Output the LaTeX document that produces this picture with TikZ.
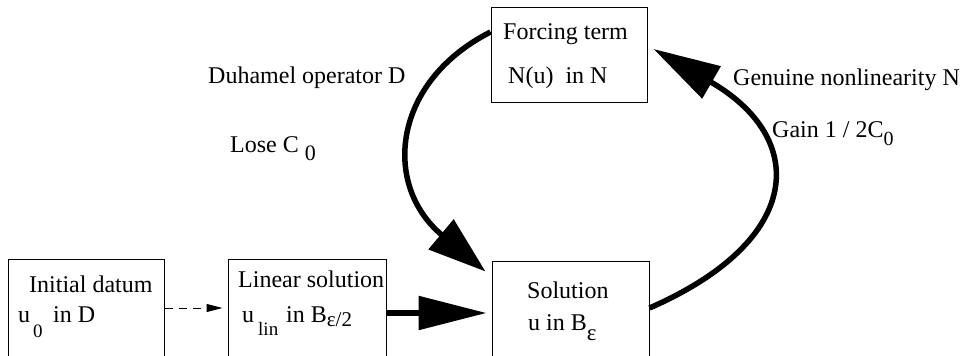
\documentclass[tikz,border=0pt]{standalone}
\usepackage{fontspec}
\setmainfont{Liberation Serif}
\usetikzlibrary{arrows.meta}
\tikzset{
  box/.style={draw=black, line width=1pt, inner sep=0pt, fill=none},
  txt/.style={inner sep=0pt, anchor=base west, font=\fontsize{24}{28}\selectfont},
  sub/.style={inner sep=0pt, anchor=base west, font=\fontsize{19}{21}\selectfont},
  thickarrow/.style={line width=5.5pt},
  dasharrow/.style={line width=1pt, dash pattern=on 8pt off 6pt, -{Triangle[length=16pt,width=8pt]}}
}
\begin{document}
\begin{tikzpicture}[x=1pt,y=-1pt]
\useasboundingbox (0,0) rectangle (964,356);
\clip (0,0) rectangle (964,356);
\fill[white] (0,0) rectangle (964,356);
% boxes
\node[box, minimum width=156pt, minimum height=103pt] (A) at (86,310.5) {};
\node[box, minimum width=158pt, minimum height=103pt] (B) at (307,310.5) {};
\node[box, minimum width=157pt, minimum height=101pt] (C) at (570.5,311.5) {};
\node[box, minimum width=156pt, minimum height=95pt] (D) at (569,54.5) {};
% texts in boxes
\node[txt] (a1) at (29,292) {Initial datum};
\node[txt] (a2) at (18,322) {u};
\node[sub] (a3) at (33,337) {0};
\node[txt] (a4) at (53,322) {in D};
\node[txt] (b1) at (238,287) {Linear solution};
\node[txt] (b2) at (242,322) {u};
\node[sub] (b3) at (258,335) {lin};
\node[txt] (b4) at (286,322) {in B\raisebox{-4pt}{\fontsize{21}{22}\selectfont ε/2}};
\node[txt] (c1) at (527,298) {Solution};
\node[txt] (c2) at (528,330) {u in B\raisebox{-10pt}{\fontsize{23}{24}\selectfont ε}};
\node[txt] (d1) at (503,39) {Forcing term};
\node[txt] (d2) at (508,83) {N(u)\ \ in N};
% free labels
\node[txt] (l1) at (208,83) {Duhamel operator D};
\node[txt] (l2) at (230,152) {Lose C\hspace{6pt}\raisebox{-8pt}{\fontsize{22}{24}\selectfont 0}};
\node[txt] (l3) at (733,85) {Genuine nonlinearity N};
\node[txt] (l4) at (772,137) {Gain 1 / 2C\raisebox{-8pt}{\fontsize{20}{22}\selectfont 0}};
% connectors
\draw[dasharrow] ([yshift=2.5pt]A.east) -- ([yshift=2.5pt,xshift=-5pt]B.west);
\draw[thickarrow, -{Triangle[length=68pt,width=33pt]}] ([yshift=-2.5pt]B.east) -- ([yshift=-1.5pt,xshift=-5pt]C.west);
\draw[thickarrow, -{Triangle[length=58pt,width=38pt]}] ([yshift=22.5pt]D.west) .. controls (392,82) and (382,185) .. ([xshift=-6pt,yshift=-11pt]C.north west);
\draw[thickarrow, -{Triangle[length=67pt,width=36pt]}] ([yshift=3.5pt]C.east) .. controls (805,240) and (808,138) .. ([xshift=6pt,yshift=5.5pt]D.east);
\end{tikzpicture}
\end{document}
